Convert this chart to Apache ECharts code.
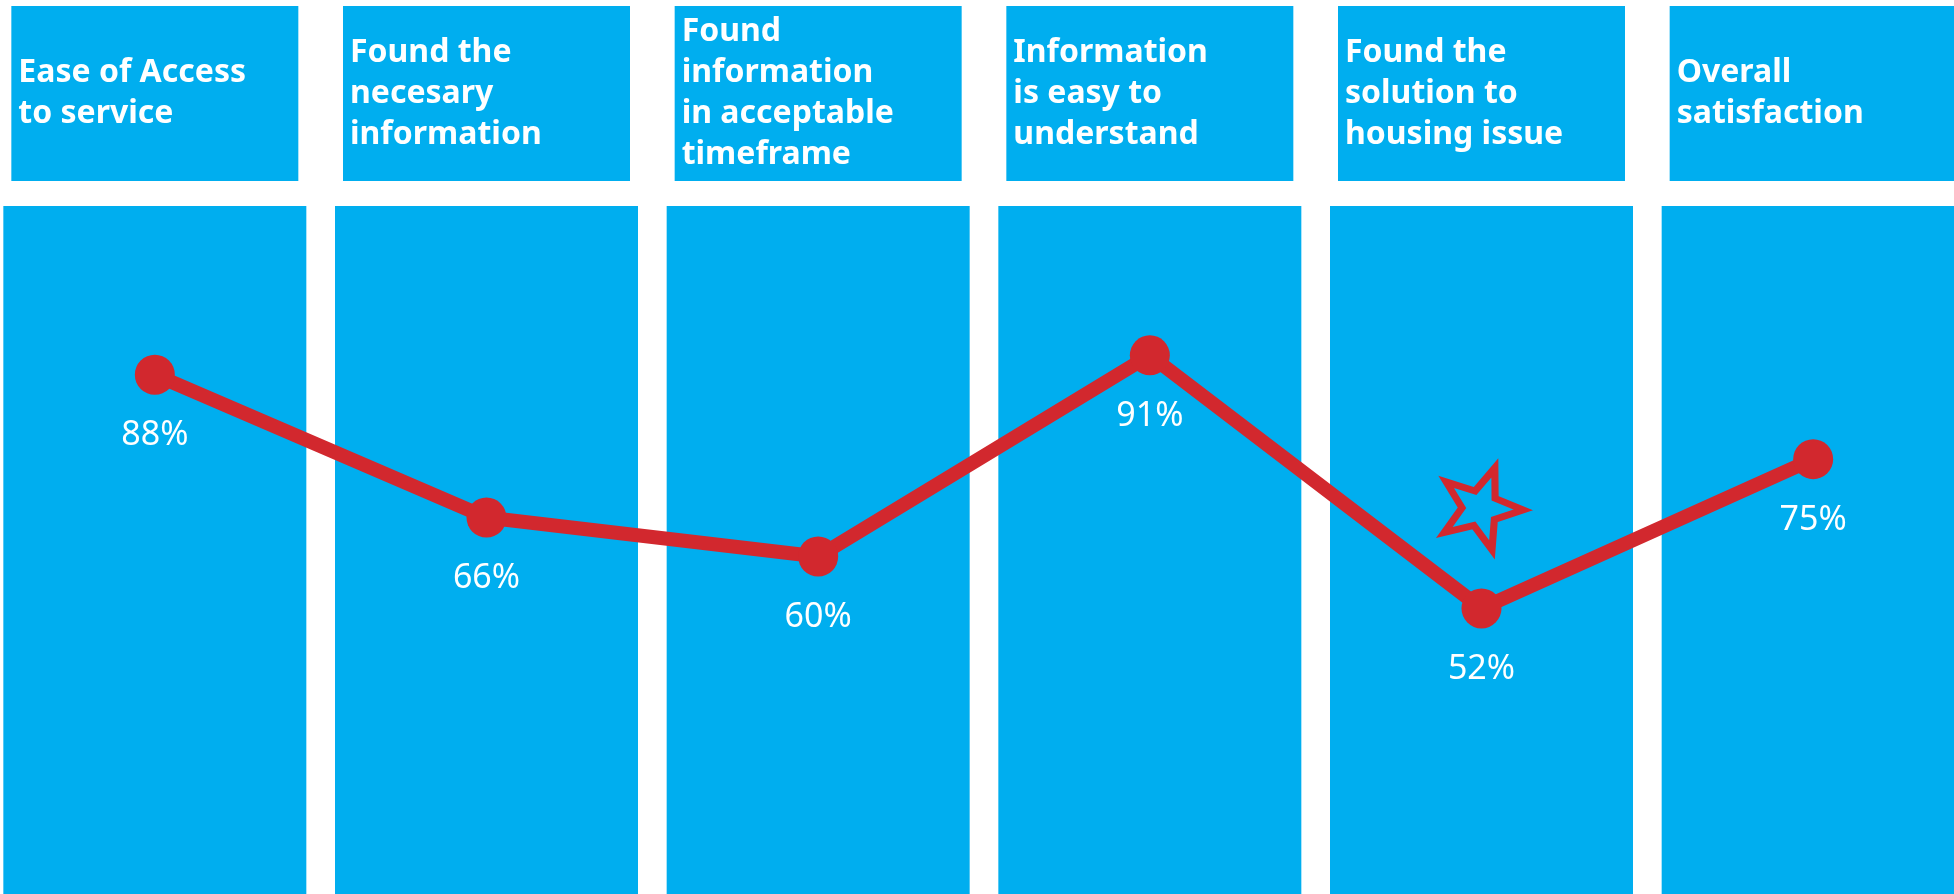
<!DOCTYPE html>
<html>
<head>
<meta charset="utf-8">
<script src="https://cdn.jsdelivr.net/npm/echarts@6/dist/echarts.min.js"></script>
<style>
  html, body { margin: 0; padding: 0; background: #ffffff; }
  #main { width: 1954px; height: 894px; }
</style>
</head>
<body>
<div id="main"></div>
<script>
// survey questions (header text) and the satisfaction scores
const categories = [
    'Ease of Access\nto service',
    'Found the\nnecesary\ninformation',
    'Found\ninformation\nin acceptable\ntimeframe',
    'Information\nis easy to\nunderstand',
    'Found the\nsolution to\nhousing issue',
    'Overall\nsatisfaction'
];
const satisfaction = [88, 66, 60, 91, 52, 75];
// header panels fill their whole strip
const headerFill = [1, 1, 1, 1, 1, 1];
// star annotation near the lowest score
const starAt = [categories[4], 68];

const blue = '#00aeef';
const red = '#d2282e';

const chart = echarts.init(document.getElementById('main'));

const option = {
    animation: false,
    backgroundColor: '#ffffff',
    grid: [
        {left: -11, width: 1990, top: 206, bottom: 0, outerBoundsMode: 'none'},
        {left: -11, width: 1990, top: 6, height: 175, outerBoundsMode: 'none'}
    ],
    xAxis: [
        {gridIndex: 0, type: 'category', data: categories, show: false},
        {gridIndex: 1, type: 'category', data: categories, show: false}
    ],
    yAxis: [
        {gridIndex: 0, type: 'value', min: 8, max: 114, show: false},
        {gridIndex: 1, type: 'value', min: 0, max: 1, show: false}
    ],
    series: [
        {
            // header boxes with the question text
            type: 'bar',
            xAxisIndex: 1,
            yAxisIndex: 1,
            data: headerFill,
            barWidth: 287,
            silent: true,
            itemStyle: {color: blue},
            label: {
                show: true,
                position: 'insideLeft',
                distance: 7,
                formatter: p => p.name,
                color: '#ffffff',
                fontFamily: 'Noto Sans',
                fontWeight: 'bold',
                fontSize: 32,
                lineHeight: 41
            }
        },
        {
            // tall column behind each score
            type: 'bar',
            data: satisfaction,
            barWidth: 303,
            silent: true,
            itemStyle: {color: 'rgba(0,0,0,0)'},
            showBackground: true,
            backgroundStyle: {color: blue}
        },
        {
            type: 'line',
            data: satisfaction,
            symbol: 'circle',
            symbolSize: 40,
            lineStyle: {color: red, width: 14},
            itemStyle: {color: red},
            label: {
                show: true,
                position: 'bottom',
                distance: 24,
                formatter: '{c}%',
                color: '#ffffff',
                fontFamily: 'Noto Sans',
                fontSize: 34
            },
            markPoint: {
                silent: true,
                data: [{
                    coord: starAt,
                    symbol: 'path://M50 0 L62.34 33.01 L97.55 34.55 L69.97 56.49 L79.39 90.45 L50 71 L20.61 90.45 L30.03 56.49 L2.45 34.55 L37.66 33.01 Z',
                    symbolSize: [82, 78],
                    symbolRotate: -20,
                    itemStyle: {color: 'rgba(0,0,0,0)', borderColor: red, borderWidth: 7},
                    label: {show: false}
                }]
            }
        }
    ]
};

chart.setOption(option);
</script>
</body>
</html>
